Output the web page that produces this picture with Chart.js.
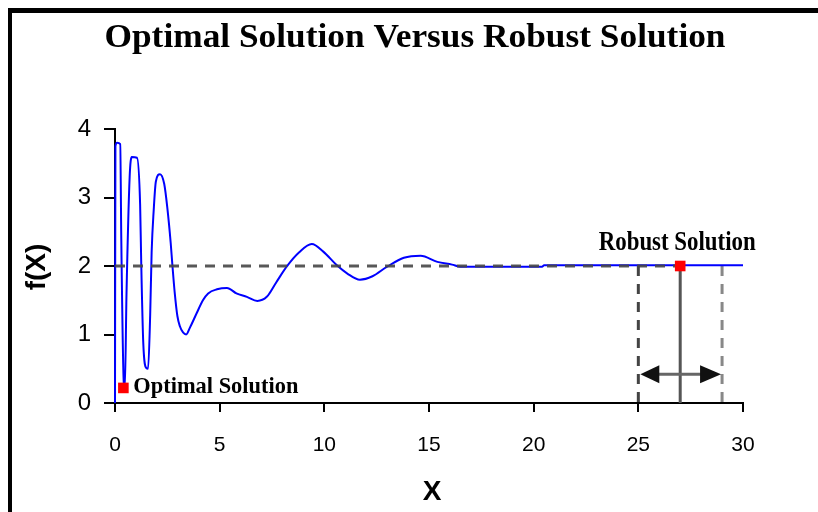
<!DOCTYPE html>
<html>
<head>
<meta charset="utf-8">
<script src="https://cdn.jsdelivr.net/npm/chart.js@4.4.0/dist/chart.umd.min.js"></script>
<style>
html,body{margin:0;padding:0;background:#fff;}
</style>
</head>
<body>
<canvas id="grafico" width="818" height="512"></canvas>
<script>
// curva f(X)
var curvaX=[0,0.02,0.1,0.25,0.3,0.42,0.47,0.55,0.7,0.8,1.05,1.2,1.25,1.35,1.5,1.58,1.68,1.75,1.85,1.95,2.15,2.35,2.5,2.66,2.74,2.85,2.98,3.1,3.25,3.4,3.58,3.9,4.2,4.45,4.87,5.35,5.8,6.3,6.8,7.25,7.7,8.2,8.8,9.4,9.95,10.6,11.1,11.7,12.3,13.0,13.8,14.6,15.4,16.1,16.5,20.4,20.5,30];
var curvaY=[0,3.75,3.8,3.78,2.4,0.29,0.22,1.6,3.3,3.59,3.58,2.9,2.09,0.88,0.51,0.5,1.28,2.2,2.82,3.23,3.34,3.2,2.85,2.34,2.02,1.62,1.27,1.12,1.03,1.0,1.1,1.31,1.5,1.6,1.66,1.68,1.6,1.55,1.49,1.55,1.76,1.99,2.2,2.32,2.21,2.01,1.89,1.8,1.85,1.99,2.12,2.15,2.06,2.02,1.99,1.99,2.01,2.01];
var otimo=[0.4,0.22];
var robusto=[27,2];
var nivel=2;
var faixa=[25,29];
var setaY=0.42;
var ticksX=[0,5,10,15,20,25,30];
var ticksY=[0,1,2,3,4];

var pontos=[];
for(var i=0;i<curvaX.length;i++){
    pontos.push({x:curvaX[i],y:curvaY[i]});
}

function textoLargura(ctx,txt,x,y,font,w,align){
    ctx.save();
    ctx.font=font;
    var m=ctx.measureText(txt).width;
    ctx.translate(x,y);
    ctx.scale(w/m,1);
    ctx.textAlign=align;
    ctx.textBaseline="alphabetic";
    ctx.fillStyle="#000";
    ctx.fillText(txt,0,0);
    ctx.restore();
}

var extras={
    id:"extras",
    beforeDraw:function(chart){
        var ctx=chart.ctx;
        ctx.save();
        ctx.fillStyle="#fff";
        ctx.fillRect(0,0,chart.width,chart.height);
        ctx.fillStyle="#000";
        ctx.fillRect(8,8,chart.width-8,5);
        ctx.fillRect(8,8,4,chart.height-8);
        ctx.restore();
    },
    afterDraw:function(chart){
        var ctx=chart.ctx;
        var sx=chart.scales.x, sy=chart.scales.y;
        // titulo
        textoLargura(ctx,"Optimal Solution Versus Robust Solution",415,47,"bold 33px 'Liberation Serif'",621,"center");
        // rotulos dos pontos
        textoLargura(ctx,"Robust Solution",sx.getPixelForValue(robusto[0])-3,250,"bold 27px 'Liberation Serif'",157,"center");
        textoLargura(ctx,"Optimal Solution",sx.getPixelForValue(otimo[0])+10,393,"bold 24px 'Liberation Serif'",165,"left");
        // titulos dos eixos
        ctx.save();
        ctx.fillStyle="#000";
        ctx.font="bold 28px 'Liberation Sans'";
        ctx.textAlign="center";
        ctx.textBaseline="middle";
        ctx.fillText("X",432,492);
        ctx.translate(37,267);
        ctx.rotate(-Math.PI/2);
        ctx.fillText("f(X)",0,0);
        ctx.restore();
        // seta dupla
        var x1=sx.getPixelForValue(faixa[0])+2;
        var x2=sx.getPixelForValue(faixa[1])-1;
        var y=sy.getPixelForValue(setaY);
        ctx.save();
        ctx.strokeStyle="#666";
        ctx.lineWidth=3;
        ctx.beginPath();
        ctx.moveTo(x1+15,y);
        ctx.lineTo(x2-15,y);
        ctx.stroke();
        ctx.fillStyle="#111";
        ctx.beginPath();
        ctx.moveTo(x1,y);ctx.lineTo(x1+19,y-9);ctx.lineTo(x1+19,y+9);ctx.closePath();
        ctx.fill();
        ctx.beginPath();
        ctx.moveTo(x2,y);ctx.lineTo(x2-21,y-9);ctx.lineTo(x2-21,y+9);ctx.closePath();
        ctx.fill();
        ctx.restore();
    }
};

var dados={
    datasets:[{
        label:"pontos",
        data:[{x:otimo[0],y:otimo[1]},{x:robusto[0],y:robusto[1]}],
        showLine:false,
        pointStyle:"rect",
        pointRadius:7.5,
        backgroundColor:"#ff0000",
        borderWidth:0,
        order:0,
        clip:false
    },{
        label:"nivel",
        data:[{x:0,y:nivel},{x:robusto[0],y:nivel}],
        showLine:true,
        borderColor:"rgba(70,70,70,0.9)",
        borderWidth:3,
        borderDash:[10,8],
        pointRadius:0,
        order:1,
        clip:false
    },{
        label:"f(X)",
        data:pontos,
        showLine:true,
        borderColor:"#0000ff",
        borderWidth:2,
        pointRadius:0,
        cubicInterpolationMode:"monotone",
        order:2,
        clip:false
    },{
        label:"min",
        data:[{x:faixa[0],y:nivel},{x:faixa[0],y:0}],
        showLine:true,
        borderColor:"#444",
        borderWidth:3,
        borderDash:[10,8],
        pointRadius:0,
        order:3
    },{
        label:"max",
        data:[{x:faixa[1],y:nivel},{x:faixa[1],y:0}],
        showLine:true,
        borderColor:"#888",
        borderWidth:3,
        borderDash:[10,8],
        pointRadius:0,
        order:3
    },{
        label:"robusto",
        data:[{x:robusto[0],y:nivel},{x:robusto[0],y:0}],
        showLine:true,
        borderColor:"#555",
        borderWidth:3,
        pointRadius:0,
        order:3
    }]
};

var config={
    type:"scatter",
    data:dados,
    plugins:[extras],
    options:{
        responsive:false,
        animation:false,
        layout:{padding:{top:129,right:75,bottom:0,left:0}},
        plugins:{legend:{display:false},tooltip:{enabled:false},title:{display:false}},
        scales:{
            x:{
                type:"linear",
                min:0,max:30,
                afterBuildTicks:function(s){s.ticks=ticksX.map(function(v){return {value:v};});},
                afterFit:function(s){s.height=109;},
                ticks:{color:"#000",font:{family:"'Liberation Sans'",size:21},padding:21,maxRotation:0},
                grid:{drawOnChartArea:false,drawTicks:true,tickLength:9,color:"#000",lineWidth:2},
                border:{color:"#000",width:2}
            },
            y:{
                type:"linear",
                min:0,max:4,
                afterBuildTicks:function(s){s.ticks=ticksY.map(function(v){return {value:v};});},
                afterFit:function(s){s.width=115;},
                ticks:{color:"#000",font:{family:"'Liberation Sans'",size:24},padding:13},
                grid:{drawOnChartArea:false,drawTicks:true,tickLength:11,color:"#000",lineWidth:2},
                border:{color:"#000",width:2}
            }
        }
    }
};

var ctx=document.getElementById("grafico").getContext("2d");
var g1=new Chart(ctx,config);
</script>
</body>
</html>
